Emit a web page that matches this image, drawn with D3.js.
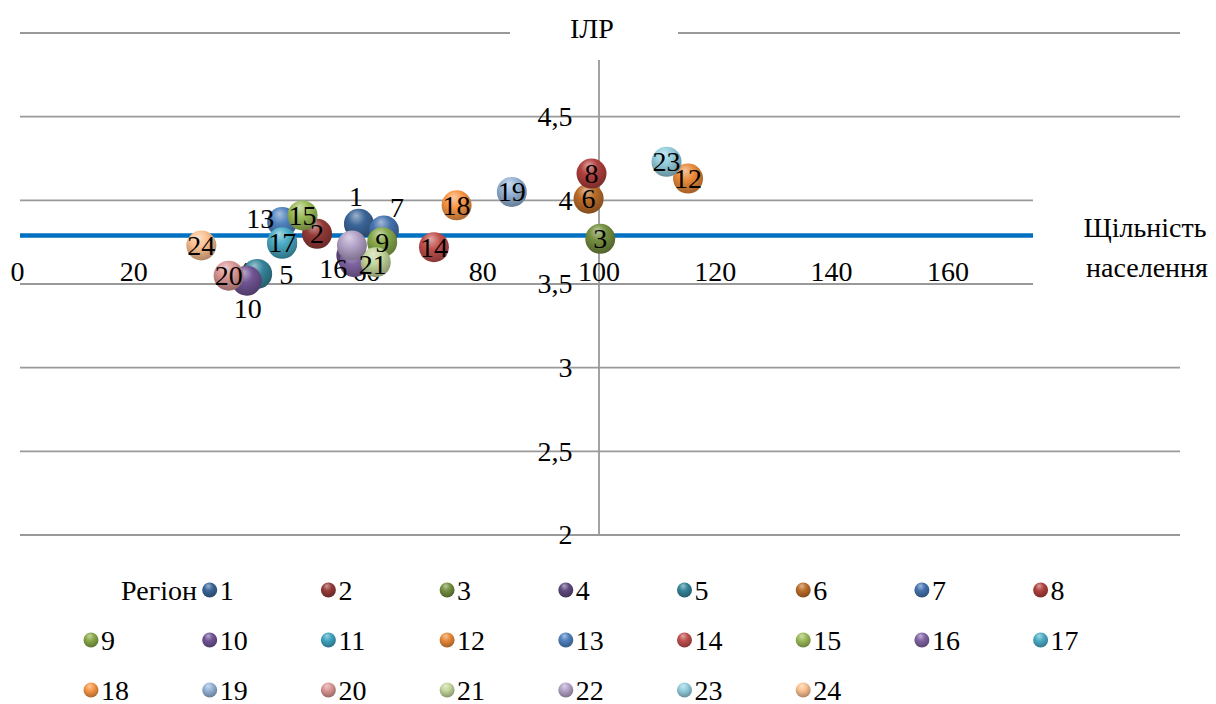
<!DOCTYPE html>
<html>
<head>
<meta charset="utf-8">
<script src="https://cdn.jsdelivr.net/npm/d3@7"></script>
</head>
<body style="margin:0">
<svg id="chart" width="1216" height="704"></svg>
<script>
// regions and their values (density of population vs ILR)
const regions = ["1","2","3","4","5","6","7","8","9","10","11","12",
                 "13","14","15","16","17","18","19","20","21","22","23","24"];
const density = [58.8, 51.6, 100.3, 57.5, 41.3, 98.3, 63.1, 98.8, 62.8, 39.5, 45.6, 115.4,
                 45.6, 71.7, 49.1, 58.0, 45.6, 75.6, 85.1, 36.4, 61.7, 57.6, 111.7, 31.7];
const ilr = [3.86, 3.80, 3.77, 3.67, 3.56, 4.01, 3.82, 4.16, 3.75, 3.52, 3.74, 4.13,
             3.87, 3.72, 3.91, 3.63, 3.75, 3.97, 4.05, 3.55, 3.63, 3.73, 4.23, 3.73];
const xTicks = [0, 20, 40, 60, 80, 100, 120, 140, 160];
const yTicks = [2, 2.5, 3, 3.5, 4, 4.5, 5];
const xCross = 3.79;   // horizontal axis crosses here
const yCross = 100;    // vertical axis crosses here

// office-like palette, one per region
const palette = ["#3a6597","#943b38","#748e3f","#5f4a7e","#35849a","#bb6d2a",
                 "#4572ad","#b0403d","#88a84a","#6f5494","#3fa3bf","#e8893a",
                 "#4f81bd","#c0504d","#9bbb59","#8064a2","#4bacc6","#f79646",
                 "#95b3d7","#d99694","#c3d69b","#b3a2c7","#93cddd","#fac090"];

// manual label nudges (px), null = label hidden
const labelNudge = {0:[-3,-27], 6:[13,-23], 12:[-22,-4], 4:[29,1], 9:[1,28], 15:[-21,6],
                    20:[-3,2], 3:null, 10:null, 21:null};

const font = 28;
const R = 15;

const svg = d3.select("#chart");

// every text gets its font straight away
function txt(sel) {
  return sel.append("text").attr("font-family", "Liberation Serif").attr("font-size", font);
}

const x = d3.scaleLinear().domain([0, 200]).range([17, 1180]);
const y = d3.scaleLinear().domain([2, 5]).range([535, 33]);

const loc = d3.formatLocale({decimal: ",", thousands: " ", grouping: [3], currency: ["", ""]});
const fmt = loc.format(".1~f");

// gradients for the glossy bubbles
const defs = svg.append("defs");
palette.forEach(function (c, i) {
  const g = defs.append("radialGradient").attr("id", "g" + i)
    .attr("cx", "45%").attr("cy", "35%").attr("r", "65%").attr("fx", "40%").attr("fy", "22%");
  g.append("stop").attr("offset", "0%").attr("stop-color", d3.interpolateRgb(c, "#fff")(0.5));
  g.append("stop").attr("offset", "45%").attr("stop-color", c);
  g.append("stop").attr("offset", "100%").attr("stop-color", d3.color(c).darker(1));
});

// gridlines
svg.append("g").selectAll("line").data(yTicks).join("line")
  .attr("x1", x(0) + 3).attr("x2", x(200))
  .attr("y1", d => y(d)).attr("y2", d => y(d))
  .attr("stroke", "#999").attr("stroke-width", 1.8);

// vertical axis
const yAxis = svg.append("g").attr("transform", "translate(" + x(yCross) + ",0)")
  .call(d3.axisLeft(y).tickValues(yTicks).tickSize(0).tickPadding(26).tickFormat(fmt));
yAxis.attr("font-family", "Liberation Serif").attr("font-size", font);
yAxis.selectAll("text").attr("font-family", "Liberation Serif").attr("font-size", font);
yAxis.select(".domain").attr("stroke", "#999").attr("stroke-width", 1.8);

// horizontal axis
const xAxis = svg.append("g").attr("transform", "translate(0," + y(xCross) + ")")
  .call(d3.axisBottom(x).tickValues(xTicks).tickSize(0).tickPadding(26).tickFormat(fmt));
xAxis.attr("font-family", "Liberation Serif").attr("font-size", font);
xAxis.selectAll("text").attr("font-family", "Liberation Serif").attr("font-size", font);
xAxis.select(".domain").attr("stroke", "#0070c0").attr("stroke-width", 4.5)
  .attr("d", "M" + (x(0) + 3) + ",0H" + x(200));

// bubbles
const pts = regions.map((r, i) => ({r: r, i: i, x: density[i], y: ilr[i]}));
svg.append("g").selectAll("circle").data(pts).join("circle")
  .attr("cx", d => x(d.x)).attr("cy", d => y(d.y)).attr("r", R)
  .attr("fill", d => "url(#g" + d.i + ")");

// bubble labels
const lab = svg.append("g");
pts.filter(d => labelNudge[d.i] !== null).forEach(function (d) {
  const n = labelNudge[d.i] || [0, 0];
  txt(lab).attr("x", x(d.x) + n[0]).attr("y", y(d.y) + n[1])
    .attr("dy", "0.34em").attr("text-anchor", "middle").text(d.r);
});

// chart title over the top gridline
svg.append("rect").attr("x", 510).attr("y", 0).attr("width", 168).attr("height", 60).attr("fill", "#fff");
txt(svg).attr("x", 592).attr("y", 38).attr("text-anchor", "middle").text("ІЛР");

// horizontal axis title
svg.append("rect").attr("x", 1033).attr("y", 188).attr("width", 183).attr("height", 108).attr("fill", "#fff");
txt(svg).attr("x", 1145).attr("y", 237).attr("text-anchor", "middle").text("Щільність");
txt(svg).attr("x", 1147).attr("y", 277).attr("text-anchor", "middle").text("населення");

// legend: 9 slots per row, first slot holds the caption
const colX = d3.range(9).map(k => 91 + k * 118.7);
const rowY = [590, 640, 690];
txt(svg).attr("x", 197).attr("y", rowY[0]).attr("dy", "0.34em")
  .attr("text-anchor", "end").text("Регіон");
const leg = svg.append("g");
pts.forEach(function (d) {
  const gx = colX[(d.i + 1) % 9], gy = rowY[Math.floor((d.i + 1) / 9)];
  leg.append("circle").attr("cx", gx).attr("cy", gy).attr("r", 7.5).attr("fill", "url(#g" + d.i + ")");
  txt(leg).attr("x", gx + 10).attr("y", gy).attr("dy", "0.34em").text(d.r);
});
</script>
</body>
</html>
